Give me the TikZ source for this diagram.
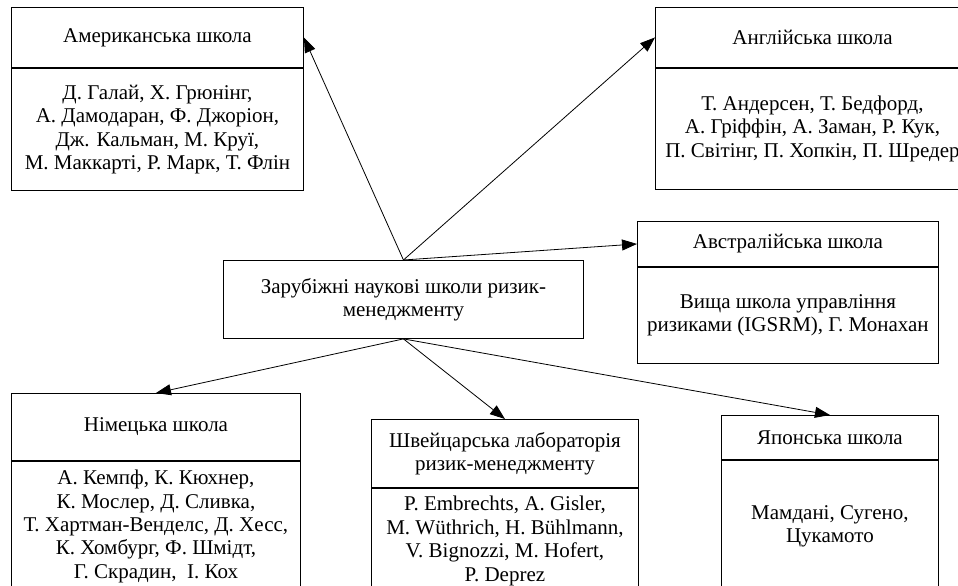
\documentclass[tikz,border=0pt]{standalone}
\usepackage{fontspec}
\setmainfont{Liberation Serif}
\usetikzlibrary{positioning,arrows.meta}

\begin{document}
\begin{tikzpicture}[x=1pt,y=-1pt,
    every node/.style={font=\fontsize{21}{23.4}\selectfont},
    part/.style={draw, rectangle, align=center, inner sep=0pt, line width=0.9pt},
    link/.style={-{Triangle[length=15pt,width=11pt]}, line width=0.8pt}]
    \useasboundingbox (0,0) rectangle (958,586);
    \clip (0,0) rectangle (958,586);
    % centre
    \node[part, minimum width=360pt, minimum height=78pt, anchor=north west] (root) at (223,260) {Зарубіжні наукові школи ризик-\\менеджменту};
    % top row
    \node[part, minimum width=292pt, minimum height=60pt, anchor=north west] (amerhead) at (11,7) {Американська школа};
    \node[part, minimum width=292pt, minimum height=122pt, below=0pt of amerhead] (amerbody) {Д. Галай, Х. Грюнінг,\\А. Дамодаран, Ф. Джоріон,\\Дж. Кальман, М. Круї,\\М. Маккарті, Р. Марк, Т. Флін};
    \node[part, minimum width=314pt, minimum height=60pt, anchor=north west] (englhead) at (655,7) {Англійська школа};
    \node[part, minimum width=314pt, minimum height=121pt, below=0pt of englhead] (englbody) {Т. Андерсен, Т. Бедфорд,\\А. Гріффін, А. Заман, Р. Кук,\\П. Світінг, П. Хопкін, П. Шредер};
    \node[part, minimum width=301pt, minimum height=45pt, anchor=north west] (austhead) at (637,221) {Австралійська школа};
    \node[part, minimum width=301pt, minimum height=96pt, below=0pt of austhead] (austbody) {Вища школа управління\\ризиками (IGSRM), Г. Монахан};
    % bottom row
    \node[part, minimum width=289pt, minimum height=67pt, anchor=north west] (germhead) at (11,393) {Німецька школа};
    \node[part, minimum width=289pt, minimum height=130pt, below=0pt of germhead] (germbody) {А. Кемпф, К. Кюхнер,\\К. Мослер, Д. Сливка,\\Т. Хартман-Венделс, Д. Хесс,\\К. Хомбург, Ф. Шмідт,\\Г. Скрадин, \ І. Кох};
    \node[part, minimum width=267pt, minimum height=68pt, anchor=north west] (swisshead) at (371,419) {Швейцарська лабораторія\\ризик-менеджменту};
    \node[part, minimum width=267pt, minimum height=105pt, below=0pt of swisshead] (swissbody) {P. Embrechts, A. Gisler,\\M. Wüthrich, H. Bühlmann,\\V. Bignozzi, M. Hofert,\\P. Deprez};
    \node[part, minimum width=217pt, minimum height=44pt, anchor=north west] (japhead) at (721,415) {Японська школа};
    \node[part, minimum width=217pt, minimum height=132pt, below=0pt of japhead] (japbody) {Мамдані, Сугено,\\Цукамото};
    % arrows
    \draw[link] (root.north) -- (amerhead.east);
    \draw[link] (root.north) -- (englhead.west);
    \draw[link] (root.north) -- (austhead.west);
    \draw[link] (root.south) -- (germhead.north);
    \draw[link] (root.south) -- (swisshead.north);
    \draw[link] (root.south) -- (japhead.north);
\end{tikzpicture}
\end{document}
